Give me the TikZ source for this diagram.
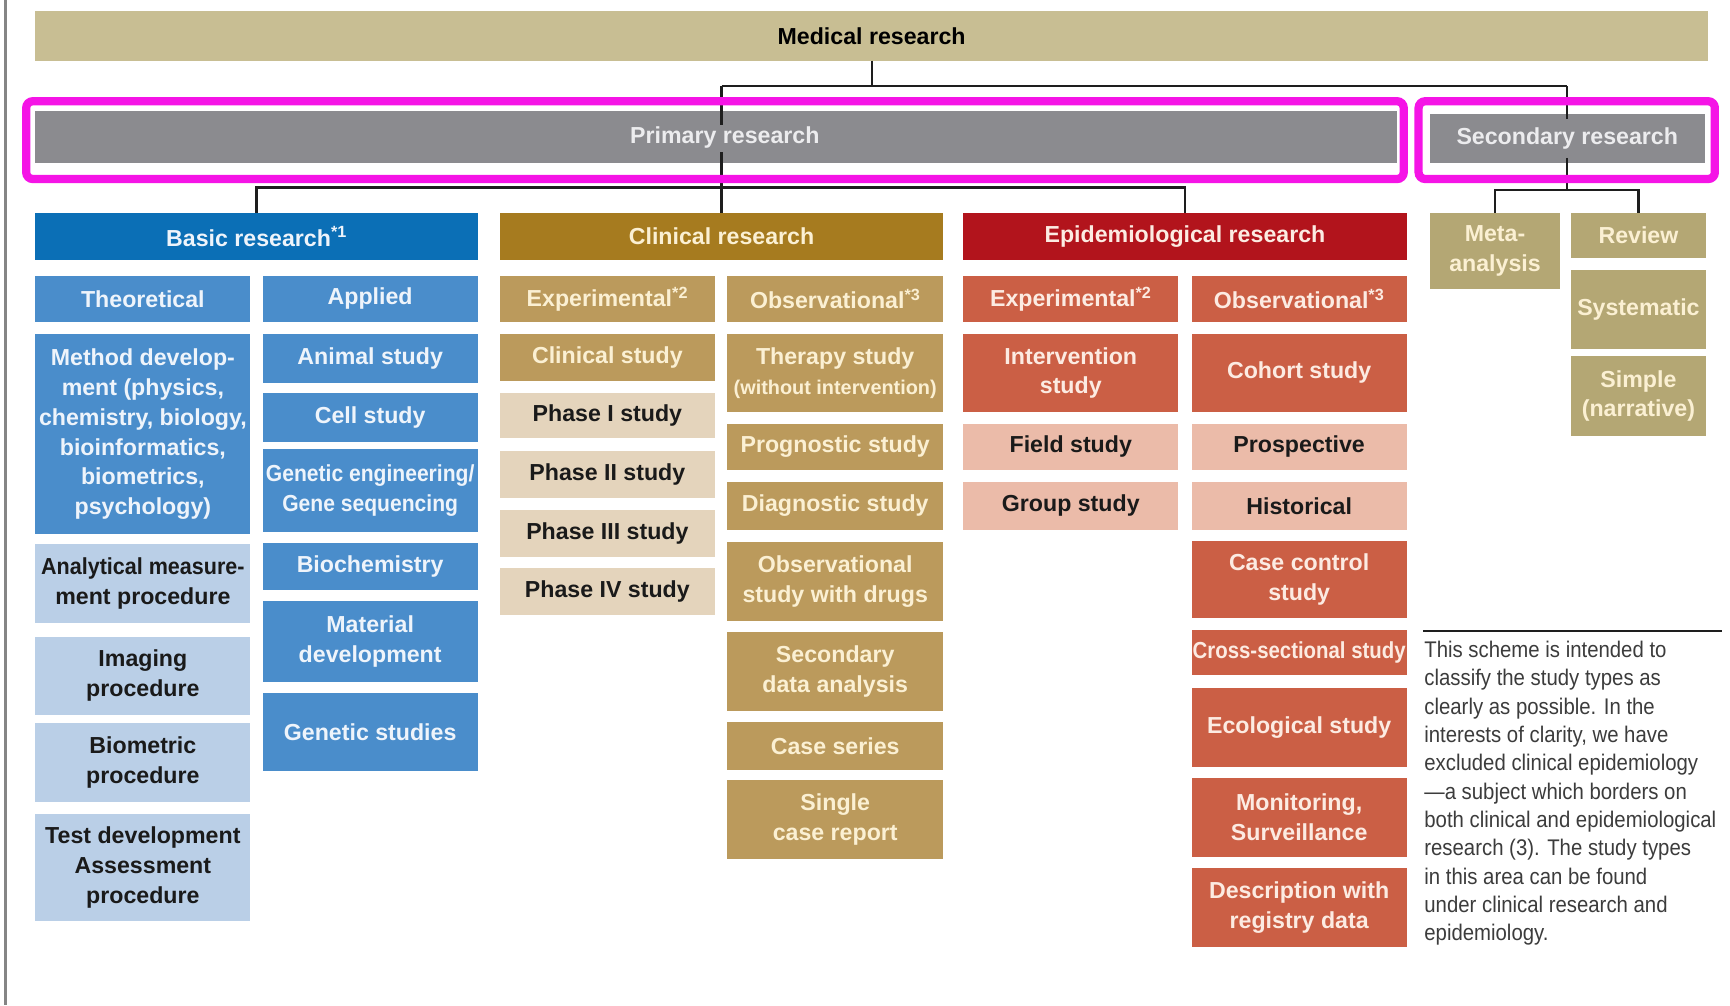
\documentclass[tikz,border=0pt]{standalone}
\usepackage{fontspec}
\usepackage{graphicx}
\setmainfont{Liberation Sans}
\newfontfamily\notefont[FakeStretch=0.9]{Liberation Sans}
\usetikzlibrary{calc}

% palette
\definecolor{medc}{HTML}{C8BE93}
\definecolor{grayc}{HTML}{8B8B8F}
\definecolor{grayt}{HTML}{ECECEE}
\definecolor{basicc}{HTML}{0B6FB6}
\definecolor{bmidc}{HTML}{4A8DCB}
\definecolor{blightc}{HTML}{BACFE7}
\definecolor{bluet}{HTML}{EEF4FB}
\definecolor{clinc}{HTML}{A67B1F}
\definecolor{cmidc}{HTML}{BB9A5C}
\definecolor{clightc}{HTML}{E4D4BC}
\definecolor{goldt}{HTML}{FBF0D3}
\definecolor{epic}{HTML}{B2141C}
\definecolor{emidc}{HTML}{CB5F45}
\definecolor{elightc}{HTML}{EBBBA9}
\definecolor{redt}{HTML}{FCEBE2}
\definecolor{secc}{HTML}{B4A774}
\definecolor{darkt}{HTML}{1A1A1A}
\definecolor{linec}{HTML}{1E1E1E}
\definecolor{magc}{HTML}{F514E6}
\definecolor{notec}{HTML}{3C3C3C}
\definecolor{edgec}{HTML}{858585}

\tikzset{
  cellbase/.style={inner sep=1pt, outer sep=0pt, align=center, anchor=north west,
    font=\bfseries\fontsize{21}{27}\selectfont},
  medbox/.style={cellbase, fill=medc, text=black},
  graybox/.style={cellbase, fill=grayc, text=grayt},
  basichd/.style={cellbase, fill=basicc, text=bluet},
  bmid/.style={cellbase, fill=bmidc, text=bluet},
  blight/.style={cellbase, fill=blightc, text=darkt},
  clinhd/.style={cellbase, fill=clinc, text=goldt},
  cmid/.style={cellbase, fill=cmidc, text=goldt},
  clight/.style={cellbase, fill=clightc, text=darkt},
  epihd/.style={cellbase, fill=epic, text=redt},
  emid/.style={cellbase, fill=emidc, text=redt},
  elight/.style={cellbase, fill=elightc, text=darkt},
  secbox/.style={cellbase, fill=secc, text=goldt},
  conn/.style={draw=linec, line width=2pt},
  hilite/.style={draw=magc, line width=7.5pt, rounded corners=6pt},
  notestyle/.style={inner sep=0pt, outer sep=0pt, align=left, text=notec,
    font=\notefont\fontsize{20.5}{25.7}\selectfont},
}

% \cell{style}{name}{left}{right}{top}{bottom}{text}
\newcommand{\cell}[7]{%
  \node[#1, minimum width=#4-#3, minimum height=#6-#5] (#2) at (#3,-#5) {#7};}

\begin{document}
\begin{tikzpicture}[x=1pt,y=1pt]
\useasboundingbox (0,0) rectangle (1568,-911);
\fill[white] (0,0) rectangle (1568,-911);
\draw[edgec, line width=3pt] (5,0) -- (5,-911);

% top levels
\cell{medbox}{med}{32}{1548}{10}{55}{Medical research}
\cell{graybox}{prim}{32}{1266}{101}{148}{\hspace*{16pt}Primary research}
\cell{graybox}{sec}{1296}{1545}{103}{148}{Secondary research}

% research branches
\cell{basichd}{basic}{32}{433}{193}{236}{Basic research\textsuperscript{*1}}
\cell{clinhd}{clin}{453}{855}{193}{236}{Clinical research}
\cell{epihd}{epi}{873}{1275}{193}{236}{Epidemiological research}

% secondary research
\cell{secbox}{meta}{1296}{1414}{193}{262}{Meta-\\analysis}
\cell{secbox}{rev}{1424}{1546}{193}{234}{Review}
\cell{secbox}{syst}{1424}{1546}{245}{316}{Systematic}
\cell{secbox}{simp}{1424}{1546}{323}{395}{Simple\\(narrative)}

% basic research: theoretical
\cell{bmid}{theo}{32}{227}{250}{292}{Theoretical}
\cell{bmid}{meth}{32}{227}{303}{484}{Method develop-\\ment (physics,\\chemistry, biology,\\bioinformatics,\\biometrics,\\psychology)}
\cell{blight}{anal}{32}{227}{493}{565}{\scalebox{0.93}[1]{Analytical measure-}\\ment procedure}
\cell{blight}{imag}{32}{227}{577}{648}{Imaging\\procedure}
\cell{blight}{biom}{32}{227}{655}{727}{Biometric\\procedure}
\cell{blight}{test}{32}{227}{738}{835}{Test development\\Assessment\\procedure}

% basic research: applied
\cell{bmid}{appl}{238}{433}{250}{292}{Applied}
\cell{bmid}{anim}{238}{433}{303}{347}{Animal study}
\cell{bmid}{cells}{238}{433}{356}{401}{Cell study}
\cell{bmid}{gene}{238}{433}{407}{482}{\scalebox{0.91}[1]{Genetic engineering/}\\\scalebox{0.91}[1]{Gene sequencing}}
\cell{bmid}{bioc}{238}{433}{492}{535}{Biochemistry}
\cell{bmid}{matd}{238}{433}{545}{618}{Material\\development}
\cell{bmid}{gens}{238}{433}{628}{699}{Genetic studies}

% clinical research: experimental
\cell{cmid}{cexp}{453}{648}{250}{292}{Experimental\textsuperscript{*2}}
\cell{cmid}{cstu}{453}{648}{303}{345}{Clinical study}
\cell{clight}{ph1}{453}{648}{356}{397}{Phase I study}
\cell{clight}{ph2}{453}{648}{409}{451}{Phase II study}
\cell{clight}{ph3}{453}{648}{462}{505}{Phase III study}
\cell{clight}{ph4}{453}{648}{515}{557}{Phase IV study}

% clinical research: observational
\cell{cmid}{cobs}{659}{855}{250}{292}{Observational\textsuperscript{*3}}
\cell{cmid}{ther}{659}{855}{303}{373}{Therapy study\\{\fontsize{18}{22}\selectfont(without intervention)}}
\cell{cmid}{prog}{659}{855}{384}{426}{Prognostic study}
\cell{cmid}{diag}{659}{855}{437}{480}{Diagnostic study}
\cell{cmid}{obsd}{659}{855}{491}{563}{Observational\\study with drugs}
\cell{cmid}{seda}{659}{855}{573}{644}{Secondary\\data analysis}
\cell{cmid}{case}{659}{855}{654}{698}{Case series}
\cell{cmid}{sing}{659}{855}{707}{779}{Single\\case report}

% epidemiological research: experimental
\cell{emid}{eexp}{873}{1068}{250}{292}{Experimental\textsuperscript{*2}}
\cell{emid}{intv}{873}{1068}{303}{373}{Intervention\\study}
\cell{elight}{fiel}{873}{1068}{384}{426}{Field study}
\cell{elight}{grou}{873}{1068}{437}{480}{Group study}

% epidemiological research: observational
\cell{emid}{eobs}{1080}{1275}{250}{292}{Observational\textsuperscript{*3}}
\cell{emid}{coho}{1080}{1275}{303}{373}{Cohort study}
\cell{elight}{pros}{1080}{1275}{384}{426}{Prospective}
\cell{elight}{hist}{1080}{1275}{437}{480}{Historical}
\cell{emid}{cctl}{1080}{1275}{490}{560}{Case control\\study}
\cell{emid}{cros}{1080}{1275}{571}{612}{\scalebox{0.88}[1]{Cross-sectional study}}
\cell{emid}{ecol}{1080}{1275}{624}{695}{Ecological study}
\cell{emid}{moni}{1080}{1275}{705}{777}{Monitoring,\\Surveillance}
\cell{emid}{desc}{1080}{1275}{787}{858}{Description with\\registry data}

% tree connectors (the trunk lines stop short of the bar labels)
\coordinate (j1) at ($(med.south)+(0,-23)$);
\coordinate (j2) at ($(clin.north)+(0,23)$);
\coordinate (j3) at ($(sec.south)+(0,-24)$);
\draw[conn] (med.south) -- (j1);
\draw[conn] (clin.north |- j1) -- (sec.north |- j1);
\draw[conn] (clin.north |- j1) -- ($(clin.north |- prim.north)+(0,-12)$);
\draw[conn] ($(clin.north |- prim.south)+(0,10)$) -- (clin.north);
\draw[conn] (basic.north) |- (j2) -| (epi.north);
\draw[conn] (sec.north |- j1) -- ($(sec.north)+(0,-5)$);
\draw[conn] ($(sec.south)+(0,5)$) -- (j3 -| sec.north);
\draw[conn] (meta.north) |- (j3) -| (rev.north);

% highlight frames
\draw[hilite] (23.75,-91.75) rectangle (1272.25,-162.25);
\draw[hilite] (1285.75,-91.75) rectangle (1554.25,-162.25);

% explanatory note
\draw[linec, line width=1.6pt] (1290,-572) -- (1561,-572);
\node[notestyle, anchor=north west] (note) at (1291,-581) {This scheme is intended to\\classify the study types as\\clearly as possible. In the\\interests of clarity, we have\\excluded clinical epidemiology\\—a subject which borders on\\both clinical and epidemiological\\research (3). The study types\\in this area can be found\\under clinical research and\\epidemiology.};
\end{tikzpicture}
\end{document}
